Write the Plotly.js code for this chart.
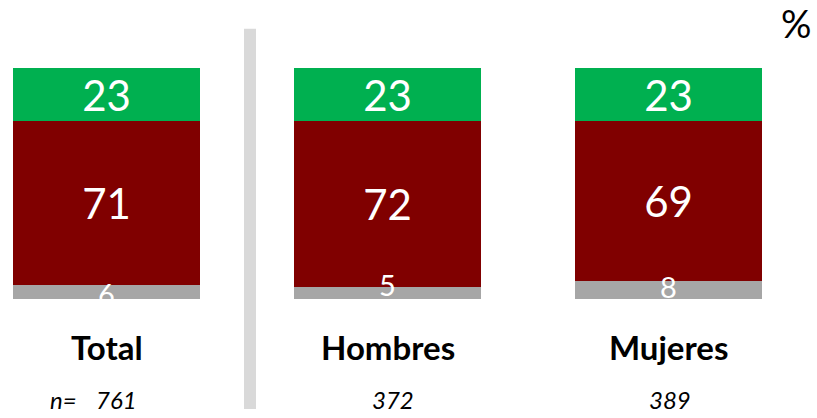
<!DOCTYPE html>
<html>
<head>
<meta charset="utf-8">
<script src="https://cdn.plot.ly/plotly-3.0.1.min.js"></script>
<style>html,body{margin:0;padding:0;background:#fff;}#chart{width:817px;height:418px;}</style>
</head>
<body>
<div id="chart"></div>
<script>
var categories = ['Total', 'Hombres', 'Mujeres'];
var sampleSizes = ['761', '372', '389'];
var valuesGray = [6, 5, 8];
var valuesRed = [71, 72, 69];
var valuesGreen = [23, 23, 23];

var FONT = 'Lato, "Open Sans", sans-serif';

function barTrace(vals, color, size, showText) {
  return {
    type: 'bar',
    x: categories,
    y: vals,
    marker: {color: color, line: {width: 0}},
    text: vals.map(String),
    textposition: showText ? 'inside' : 'none',
    insidetextanchor: 'middle',
    constraintext: 'none',
    textangle: 0,
    cliponaxis: false,
    textfont: {family: FONT, size: size, color: '#ffffff'},
    hoverinfo: 'skip',
    showlegend: false
  };
}

var data = [
  barTrace(valuesGray, '#A6A6A6', 29, false),
  barTrace(valuesRed, '#800000', 42, true),
  barTrace(valuesGreen, '#00B050', 42, true)
];

var annotations = [];
var grayShift = [-1, 9, 3];
categories.forEach(function (c, i) {
  // small gray segment labels (overflowing the thin bar)
  annotations.push({
    xref: 'x', yref: 'y', x: c, y: valuesGray[i] / 2, yanchor: 'middle', xanchor: 'center',
    yshift: grayShift[i],
    text: String(valuesGray[i]), showarrow: false,
    font: {family: FONT, size: 29, color: '#ffffff'}
  });
  annotations.push({
    xref: 'x', yref: 'paper', x: c, y: -0.208, yanchor: 'middle', xanchor: 'center',
    text: '<b>' + c + '</b>', showarrow: false,
    font: {family: FONT, size: 33, color: '#000000'}
  });
  annotations.push({
    xref: 'x', yref: 'paper', x: c, y: -0.437, yanchor: 'middle', xanchor: 'center',
    xshift: [10, 5, 2][i],
    text: '<i>' + sampleSizes[i] + '</i>', showarrow: false,
    font: {family: FONT, size: 24, color: '#000000'}
  });
});
annotations.push({
  xref: 'paper', yref: 'paper', x: 64 / 817, y: -0.437, yanchor: 'middle', xanchor: 'center',
  text: '<i>n=</i>', showarrow: false,
  font: {family: FONT, size: 24, color: '#000000'}
});
annotations.push({
  xref: 'paper', yref: 'paper', x: 796 / 817, y: 1.195, yanchor: 'middle', xanchor: 'center',
  text: '%', showarrow: false,
  font: {family: FONT, size: 38, color: '#000000'}
});

var layout = {
  width: 817, height: 418,
  margin: {l: 0, r: 0, t: 68, b: 119, pad: 0},
  paper_bgcolor: '#ffffff', plot_bgcolor: '#ffffff',
  barmode: 'stack',
  bargap: 0.335,
  xaxis: {type: 'category', range: [-0.379, 2.5285], showticklabels: false, showgrid: false, zeroline: false, showline: false, ticks: '', fixedrange: true},
  yaxis: {range: [0, 100], visible: false, showgrid: false, zeroline: false, fixedrange: true},
  shapes: [{
    type: 'rect', xref: 'paper', yref: 'paper', layer: 'below',
    x0: 244 / 817, x1: 256 / 817, y0: -0.476, y1: 1.170,
    fillcolor: '#D9D9D9', line: {width: 0}
  }],
  annotations: annotations,
  showlegend: false
};

Plotly.newPlot('chart', data, layout, {displayModeBar: false, staticPlot: true});
</script>
</body>
</html>
